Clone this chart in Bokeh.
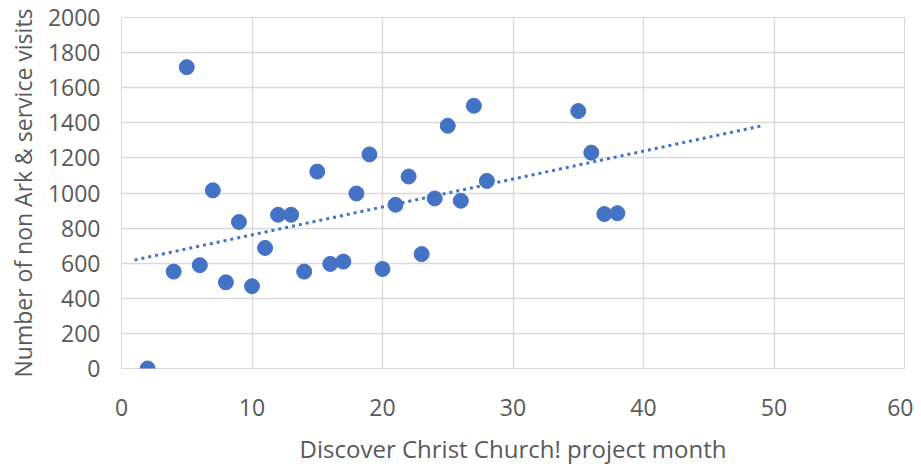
import numpy as np
from bokeh.plotting import figure
from bokeh.models import FixedTicker, ColumnDataSource, Range1d
from bokeh.embed import file_html
from bokeh.resources import INLINE

# --- data ---
month = [2, 4, 5, 6, 7, 8, 9, 10, 11, 12, 13, 14, 15, 16, 17, 18, 19, 20,
         21, 22, 23, 24, 25, 26, 27, 28, 35, 36, 37, 38]
visits = [0, 552, 1717, 589, 1015, 491, 835, 469, 687, 876, 876, 552, 1122,
          596, 609, 997, 1220, 567, 933, 1094, 652, 969, 1383, 956, 1497,
          1069, 1467, 1230, 880, 885]
trend_extent = [1, 49]   # linear trendline drawn from month 1 to month 49
x_ticks = [0, 10, 20, 30, 40, 50, 60]
y_ticks = [0, 200, 400, 600, 800, 1000, 1200, 1400, 1600, 1800, 2000]

x_title = "Discover Christ Church! project month"
y_title = "Number of non Ark & service visits"

# linear least-squares trendline
slope, intercept = np.polyfit(month, visits, 1)
trend_y = [slope * t + intercept for t in trend_extent]

FONT = "Open Sans"
TXT = "#595959"
GRID = "#d9d9d9"
BLUE = "#4472C4"

p = figure(width=913, height=467, output_backend="svg", toolbar_location=None,
           x_range=Range1d(0, 60), y_range=Range1d(0, 2000),
           min_border_left=121, min_border_right=9, min_border_top=17,
           min_border_bottom=92)

p.outline_line_color = GRID
p.xgrid.grid_line_color = GRID
p.ygrid.grid_line_color = GRID
p.xgrid.grid_line_width = 1.3
p.ygrid.grid_line_width = 1.3

p.xaxis.ticker = FixedTicker(ticks=x_ticks)
p.yaxis.ticker = FixedTicker(ticks=y_ticks)

for ax in (p.xaxis, p.yaxis):
    ax.axis_line_color = None
    ax.major_tick_line_color = None
    ax.minor_tick_line_color = None
    ax.major_tick_out = 0
    ax.major_tick_in = 0
    ax.major_label_text_font = FONT
    ax.major_label_text_font_size = "23px"
    ax.major_label_text_color = TXT
    ax.axis_label_text_font = FONT
    ax.axis_label_text_color = TXT
    ax.axis_label_text_font_style = "normal"

p.xaxis.axis_label_text_font_size = "24px"
p.yaxis.axis_label_text_font_size = "23px"
p.xaxis.axis_label = x_title
p.yaxis.axis_label = y_title
p.xaxis.major_label_standoff = 30
p.yaxis.major_label_standoff = 21
p.xaxis.axis_label_standoff = 13
p.yaxis.axis_label_standoff = 6

p.line(trend_extent, trend_y, line_color=BLUE, line_width=3, line_dash="3 4")

src = ColumnDataSource(dict(x=month, y=visits))
p.scatter("x", "y", source=src, size=15, fill_color=BLUE, line_color=BLUE)

open("out.html", "w").write(file_html(p, INLINE))
